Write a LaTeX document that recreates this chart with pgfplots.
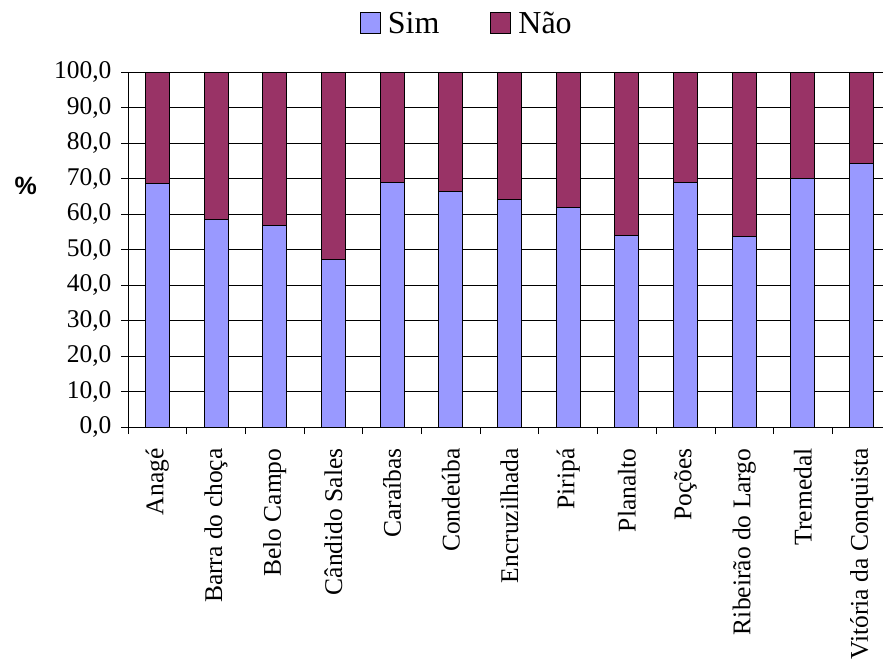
\documentclass[border=0pt]{standalone}
\usepackage{fontspec}
\setmainfont{Liberation Serif}
\setsansfont{Liberation Sans}
\usepackage{pgfplots}
\pgfplotsset{compat=1.18}
\definecolor{sim}{HTML}{9999FF}
\definecolor{nao}{HTML}{993366}
\begin{document}
\begin{tikzpicture}[font=\fontsize{25.5}{30}\selectfont]
\begin{axis}[
    scale only axis,
    width=763pt, height=355pt,
    ybar stacked, bar width=24pt,
    xmin=-0.5, xmax=12.5,
    ymin=0, ymax=100,
    axis lines=left,
    axis line style={-, black, line width=0.8pt},
    xtick={0,...,12},
    xticklabels={Anagé,Barra do choça,Belo Campo,Cândido Sales,Caraíbas,Condeúba,Encruzilhada,Piripá,Planalto,Poções,Ribeirão do Largo,Tremedal,Vitória da Conquista},
    x tick label style={rotate=90, anchor=east, xshift=-11pt},
    major x tick style={draw=none},
    minor xtick={-0.5,0.5,...,12.5},
    minor tick length=7pt,
    minor x tick style={black, line width=0.8pt},
    ytick={0,10,...,100},
    major tick length=7pt,
    tick align=outside,
    y tick style={black, line width=0.8pt},
    ymajorgrids,
    grid style={black, line width=0.8pt},
    yticklabel style={xshift=-6pt, /pgf/number format/.cd, fixed, fixed zerofill, precision=1, use comma, assume math mode=true},
    ylabel={\bfseries\sffamily\fontsize{25}{28}\selectfont\%},
    ylabel style={rotate=-90, at={(rel axis cs:-0.134,0.68)}, anchor=center},
    legend style={at={(rel axis cs:0.444,1.137)}, anchor=center, draw=none, legend columns=2,
        font=\fontsize{32}{35}\selectfont,
        /tikz/every even column/.append style={column sep=49pt}},
    legend image code/.code={\draw[#1, draw=black, line width=1pt] (0pt,-10pt) rectangle (20pt,11pt); \path (25pt,0pt);},
    every axis plot/.append style={draw=black, line width=1pt},
]
\addplot[fill=sim] coordinates {
    (0,68.6) (1,58.4) (2,56.8) (3,47.3) (4,69.0) (5,66.3) (6,64.0)
    (7,61.8) (8,53.9) (9,69.0) (10,53.8) (11,70.1) (12,74.2)
};
\addplot[fill=nao] coordinates {
    (0,31.4) (1,41.6) (2,43.2) (3,52.7) (4,31.0) (5,33.7) (6,36.0)
    (7,38.2) (8,46.1) (9,31.0) (10,46.2) (11,29.9) (12,25.8)
};
\legend{Sim,Não}
\coordinate (bl) at (rel axis cs:0,0);
\coordinate (tr) at (rel axis cs:1,1);
\end{axis}
\pgfresetboundingbox
\path[use as bounding box] ([shift={(-128pt,-235pt)}]bl) rectangle ([shift={(-8pt,72pt)}]tr);
\end{tikzpicture}
\end{document}
